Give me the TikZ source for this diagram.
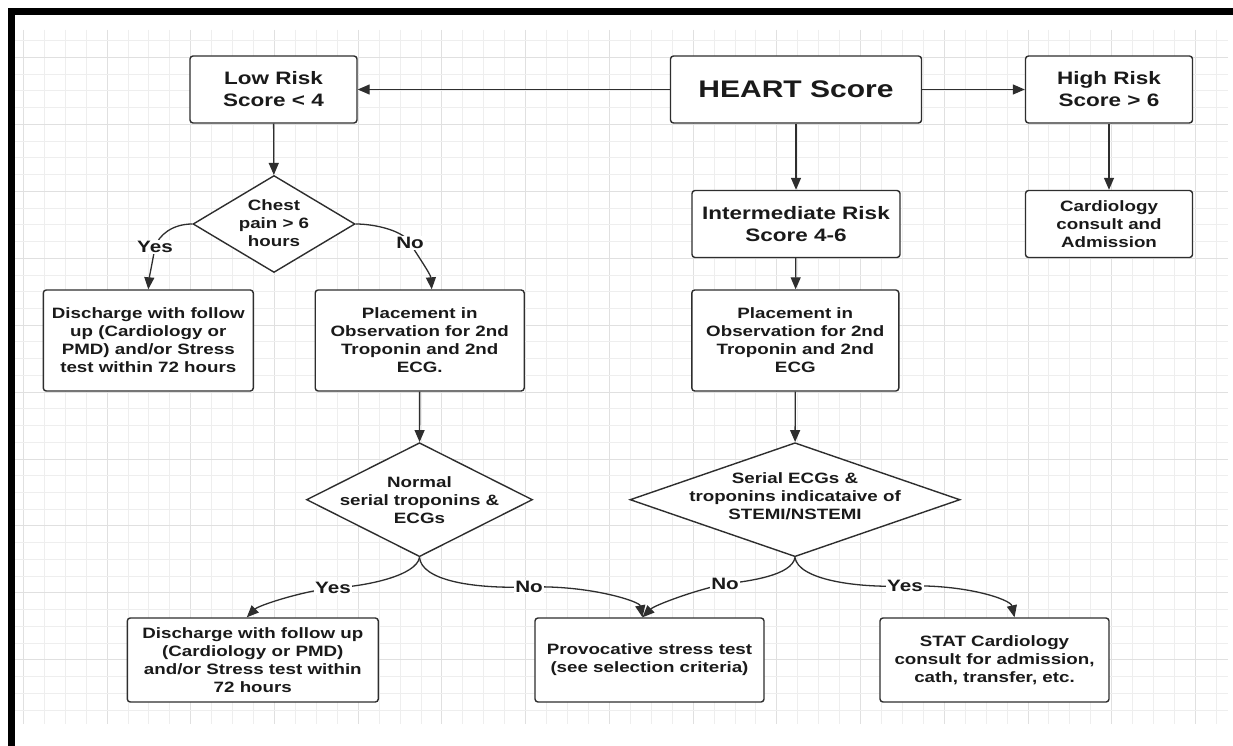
\documentclass[tikz,border=0pt]{standalone}
\usepackage{fontspec}
\setmainfont{Liberation Sans}[FakeStretch=1.25]
\usetikzlibrary{shapes.geometric,arrows.meta,calc}
\definecolor{ln}{HTML}{2E2E2E}
\definecolor{gridminor}{HTML}{EEEEEE}
\definecolor{gridmajor}{HTML}{E0E0E0}
\definecolor{txt}{HTML}{1A1A1A}
\tikzset{
  box/.style={draw=ln, line width=1.4pt, rounded corners=3pt, fill=white, inner sep=0pt,
    align=center, text=txt, font=\bfseries\fontsize{15}{18}\selectfont},
  hdr/.style={font=\bfseries\fontsize{18}{22}\selectfont},
  dia/.style={draw=ln, line width=1.4pt, diamond, fill=white, inner sep=0pt},
  dtext/.style={align=center, text=txt, inner sep=0pt, font=\bfseries\fontsize{15}{18}\selectfont},
  conn/.style={draw=ln, line width=1.3pt, -{Triangle[length=12pt,width=10pt]}},
  lab/.style={fill=white, inner sep=1pt, text=txt, font=\bfseries\fontsize{16.5}{18}\selectfont},
  gminor/.style={draw=gridminor, line width=0.8pt},
  gmajor/.style={draw=gridmajor, line width=0.9pt},
  frame/.style={fill=black, draw=none},
}
\begin{document}
\begin{tikzpicture}[x=1pt,y=-1pt]
\useasboundingbox (0,0) rectangle (1233,746);
\fill[white] (0,0) rectangle (1233,746);
% grid
\foreach \i in {0,...,57}{
  \pgfmathtruncatemacro{\m}{mod(\i,4)}
  \ifnum\m=0 \def\gs{gmajor}\else \def\gs{gminor}\fi
  \path[\gs] ({23.3+20.93*\i},30) -- ({23.3+20.93*\i},724);
}
\foreach \j in {0,...,40}{
  \pgfmathtruncatemacro{\m}{mod(\j,4)}
  \ifnum\m=1 \def\gs{gmajor}\else \def\gs{gminor}\fi
  \path[\gs] (15,{40.7+16.73*\j}) -- (1228,{40.7+16.73*\j});
}
% frame
\path[frame] (8,8) rectangle (1233,15);
\path[frame] (8,8) rectangle (15,746);

% nodes
\node[box,hdr,minimum width=167pt,minimum height=67pt] (low) at (273.5,89.5) {Low Risk\\Score < 4};
\node[box,font=\bfseries\fontsize{24}{28}\selectfont,minimum width=251pt,minimum height=67pt] (heart) at (796,89.5) {HEART Score};
\node[box,hdr,minimum width=167pt,minimum height=67pt] (high) at (1109,89.5) {High Risk\\Score > 6};
\node[box,hdr,minimum width=208pt,minimum height=67pt] (inter) at (796,224) {Intermediate Risk\\Score 4-6};
\node[box,minimum width=167pt,minimum height=67pt] (card) at (1109,224) {Cardiology\\consult and\\Admission};
\node[dia,minimum width=162pt,minimum height=97pt,
  label={[dtext,yshift=1pt]center:Chest\\pain > 6\\hours}] (chest) at (274,224) {};
\node[box,minimum width=210pt,minimum height=101pt] (dis1) at (148.3,340.5)
  {Discharge with follow\\up (Cardiology or\\PMD) and/or Stress\\test within 72 hours};
\node[box,minimum width=209pt,minimum height=101pt] (plac1) at (419.7,340.5)
  {Placement in\\Observation for 2nd\\Troponin and 2nd\\ECG.};
\node[box,minimum width=207pt,minimum height=101pt] (plac2) at (795.3,340.5)
  {Placement in\\Observation for 2nd\\Troponin and 2nd\\ECG};
\node[dia,minimum width=226pt,minimum height=114pt,
  label={[dtext]center:Normal\\serial troponins \&\\ECGs}] (norm) at (419.5,499.7) {};
\node[dia,minimum width=330pt,minimum height=114pt,
  label={[dtext,yshift=3pt]center:Serial ECGs \&\\troponins indicataive of\\STEMI/NSTEMI}] (ser) at (795,499.7) {};
\node[box,minimum width=251pt,minimum height=84pt] (dis2) at (252.8,660)
  {Discharge with follow up\\(Cardiology or PMD)\\and/or Stress test within\\72 hours};
\node[box,minimum width=229pt,minimum height=84pt] (prov) at (649.5,660)
  {Provocative stress test\\(see selection criteria)};
\node[box,minimum width=229pt,minimum height=84pt] (stat) at (994.5,660)
  {STAT Cardiology\\consult for admission,\\cath, transfer, etc.};

% label points
\coordinate (ly1) at (155,247);
\coordinate (ln1) at (410,243);
\coordinate (ly2) at (333,588);
\coordinate (ln2) at (529,587);
\coordinate (ln3) at (725,584);
\coordinate (ly3) at (905,586);

% straight connectors
\draw[conn] (heart) -- (low);
\draw[conn] (heart) -- (high);
\draw[conn] (heart) -- (inter);
\draw[conn] (high) -- (card);
\draw[conn] (low) -- (chest);
\draw[conn] (plac1) -- (norm);
\draw[conn] (inter) -- (plac2);
\draw[conn] (plac2) -- (ser);

% curved connectors
\draw[conn] (chest.west) .. controls +(-20,0) and +(4,-12) .. (ly1) node[lab]{Yes}
  .. controls +(-2,12) and +(1,-12) .. (dis1.north);
\draw[conn] (chest.east) .. controls +(20,0) and +(-6,-12) .. (ln1) node[lab]{No}
  .. controls +(6,10) and +(-1,-15) .. ($(plac1.north)+(12,0)$);
\draw[conn] (norm.south) .. controls +(-3,18) and +(35,-2) .. (ly2) node[lab]{Yes}
  .. controls +(-30,3) and +(12,-12) .. ($(dis2.north)+(-6,0)$);
\draw[conn] (norm.south) .. controls +(2,22) and +(-60,2) .. (ln2) node[lab]{No}
  .. controls +(60,-2) and +(-3,-16) .. ($(prov.north)+(-7,0)$);
\draw[conn] (ser.south) .. controls +(-3,18) and +(25,-3) .. (ln3) node[lab]{No}
  .. controls +(-30,6) and +(12,-12) .. ($(prov.north)+(-7,0)$);
\draw[conn] (ser.south) .. controls +(3,22) and +(-50,2) .. (ly3) node[lab]{Yes}
  .. controls +(60,-2) and +(-4,-18) .. ($(stat.north)+(20,0)$);
\end{tikzpicture}
\end{document}
